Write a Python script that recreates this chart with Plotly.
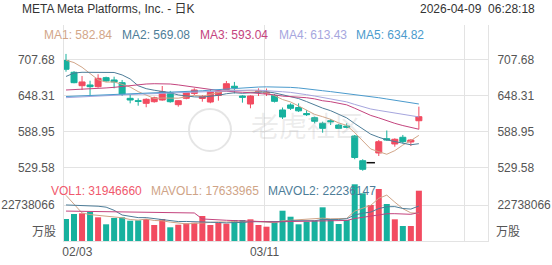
import plotly.graph_objects as go

# ---------------- data ----------------
dates = ["02/03", "02/04", "02/05", "02/06", "02/09", "02/10", "02/11", "02/12", "02/13",
         "02/17", "02/18", "02/19", "02/20", "02/23", "02/24", "02/25", "02/26", "02/27",
         "03/02", "03/03", "03/04", "03/05", "03/06", "03/09", "03/10", "03/11", "03/12",
         "03/13", "03/16", "03/17", "03/18", "03/19", "03/20", "03/23", "03/24", "03/25",
         "03/26", "03/27", "03/30", "03/31", "04/01", "04/02", "04/06", "04/07", "04/08"]

open_ = [706.8, 687.3, 665.1, 666.3, 663.5, 678.4, 674.6, 670.1, 644.2, 640.3,
         635.9, 638.6, 641.4, 653.5, 633.7, 644.2, 652.3, 643.9, 638.1, 648.9,
         658.7, 664.2, 648.0, 634.8, 654.7, 652.6, 648.9, 624.9, 633.2, 629.0,
         619.0, 612.1, 602.8, 607.1, 600.0, 598.3, 581.8, 540.9, 537.6, 553.7,
         577.4, 568.6, 579.7, 571.9, 607.1]
high = [717.7, 689.3, 681.1, 673.4, 684.0, 680.0, 680.0, 674.6, 650.9, 644.2,
        644.2, 646.9, 664.6, 656.4, 641.4, 655.2, 660.8, 649.7, 659.1, 658.0,
        672.9, 671.3, 649.4, 649.2, 660.8, 660.4, 651.4, 629.0, 635.9, 635.9,
        624.9, 613.8, 605.5, 610.0, 601.7, 602.8, 583.5, 543.3, 537.6, 575.2,
        590.9, 578.0, 583.5, 576.4, 630.4]
low = [688.3, 669.1, 658.0, 648.0, 661.8, 671.8, 660.8, 648.0, 635.9, 632.0,
       629.4, 637.0, 640.3, 637.0, 630.4, 642.6, 649.7, 638.6, 636.0, 640.3,
       657.5, 652.3, 637.0, 627.7, 648.0, 648.0, 637.3, 610.0, 624.9, 621.6,
       614.9, 602.8, 587.3, 600.0, 593.4, 594.5, 543.3, 524.3, 537.6, 548.7,
       574.0, 564.1, 569.7, 565.2, 592.9]
close = [692.3, 670.1, 671.3, 663.5, 677.3, 672.9, 671.3, 651.4, 641.4, 639.2,
         642.6, 645.2, 655.2, 638.6, 640.3, 653.9, 658.0, 647.3, 654.7, 656.1,
         668.4, 661.8, 645.9, 648.0, 656.4, 654.2, 639.2, 613.3, 627.7, 623.5,
         617.1, 606.2, 594.5, 605.5, 594.5, 596.2, 546.2, 526.7, 537.6, 572.4,
         575.2, 576.4, 572.4, 575.2, 613.8]

volume = [13970000, 17150000, 17590000, 18420000, 15050000, 10610000, 14610000, 15050000,
          12890000, 13150000, 13970000, 10160000, 13970000, 8700000, 10350000, 11240000,
          11620000, 15880000, 10160000, 11620000, 10990000, 13340000, 13340000, 13780000,
          10160000, 9080000, 11880000, 19240000, 15430000, 10610000, 12260000, 12890000,
          21400000, 13340000, 10800000, 13340000, 36010000, 30300000, 22860000, 33030000,
          23500000, 13780000, 9530000, 9530000, 31946660]

ma1 = [707.3, 703.4, 695.6, 684.9, 674.9, 671.0, 671.3, 667.3, 662.9, 655.3,
       649.2, 643.9, 644.7, 644.1, 644.4, 646.7, 649.2, 647.7, 650.9, 654.0,
       656.9, 657.6, 657.4, 656.1, 656.2, 653.2, 648.7, 642.2, 638.2, 631.6,
       624.2, 617.6, 613.8, 609.4, 603.5, 599.4, 587.4, 573.8, 560.3, 555.8,
       551.6, 557.6, 566.8, 574.3, 582.84]
ma2 = [680.4, 686.1, 687.3, 687.3, 687.3, 687.3, 687.0, 682.9, 676.3, 665.0,
       660.2, 657.6, 656.0, 653.5, 649.8, 647.9, 646.6, 646.2, 647.6, 649.2,
       651.8, 653.4, 652.5, 653.4, 655.1, 655.1, 653.2, 649.8, 647.1, 643.8,
       638.8, 633.2, 628.0, 623.7, 617.6, 611.8, 602.4, 593.9, 584.8, 579.7,
       575.5, 572.6, 570.3, 567.3, 569.08]
ma3 = [658.0, 658.5, 659.0, 659.5, 660.4, 661.4, 662.4, 663.9, 665.4, 666.9,
       667.9, 668.4, 668.4, 667.9, 666.4, 664.4, 662.4, 660.4, 659.0, 657.1,
       655.9, 655.6, 654.3, 653.5, 652.4, 651.5, 649.9, 647.9, 647.3, 646.5,
       645.2, 643.3, 640.2, 638.6, 636.3, 633.4, 627.8, 621.8, 615.9, 611.8,
       607.1, 602.8, 599.1, 595.5, 593.04]
ma4 = [645.3, 646.1, 646.8, 647.5, 648.2, 648.8, 649.5, 650.0, 650.5, 651.0,
       651.5, 652.0, 652.6, 653.0, 653.6, 654.2, 654.9, 655.6, 656.1, 656.7,
       657.3, 657.7, 657.9, 657.9, 657.7, 657.1, 656.3, 655.1, 654.0, 652.7,
       650.2, 648.0, 645.5, 643.6, 640.8, 638.3, 634.1, 630.0, 626.5, 624.2,
       622.0, 619.7, 616.9, 614.8, 613.43]
ma5 = [647.2, 647.7, 648.2, 648.7, 649.2, 649.7, 650.2, 650.7, 651.2, 651.7,
       652.3, 652.9, 653.4, 654.0, 654.6, 655.3, 656.0, 656.7, 657.8, 658.8,
       659.8, 660.8, 661.7, 662.4, 662.9, 663.2, 663.2, 662.9, 662.3, 661.4,
       659.5, 658.2, 656.8, 655.3, 653.8, 652.3, 650.7, 649.0, 647.2, 645.2,
       643.1, 641.0, 638.9, 636.8, 634.82]

# volume moving averages, in millions of shares
mavol1_m = [29.0, 23.5, 17.8, 16.8, 16.44, 15.76, 15.26, 14.75, 13.64, 13.26,
            13.93, 13.04, 12.83, 11.99, 11.43, 10.88, 11.18, 11.56, 11.85, 12.10,
            12.05, 12.40, 11.89, 12.61, 12.32, 11.94, 11.65, 12.83, 13.16, 13.25,
            13.88, 14.09, 14.52, 14.10, 14.14, 14.35, 18.98, 20.76, 22.66, 27.11,
            29.14, 24.69, 20.54, 17.87, 17.633965]
mavol2_m = [22.9, 22.8, 22.6, 22.4, 22.1, 21.5, 19.5, 16.5, 15.5, 14.85,
            14.85, 14.15, 13.79, 12.82, 12.35, 12.41, 12.11, 12.19, 11.92, 11.77,
            11.47, 11.79, 11.72, 12.23, 12.21, 12.00, 12.02, 12.36, 12.89, 12.79,
            12.91, 12.87, 13.67, 13.63, 13.69, 14.12, 16.53, 17.64, 18.38, 20.62,
            21.75, 21.84, 20.65, 20.27, 22.236147]
mavol3_m = [19.0, 18.95, 18.9, 18.85, 18.8, 18.7, 18.65, 18.6, 18.5, 18.45,
            18.4, 18.3, 18.25, 18.2, 18.1, 17.9, 17.8, 14.0, 13.6, 13.31,
            13.16, 12.97, 12.76, 12.52, 12.28, 12.20, 12.07, 12.28, 12.40, 12.28,
            12.19, 12.33, 12.70, 12.93, 12.95, 13.06, 14.28, 15.00, 15.63, 16.70,
            17.33, 17.35, 17.16, 16.95, 18.04]

price_ticks = [529.58, 588.95, 648.31, 707.68]
volume_tick = 22738066
volume_unit = "万股"
title_text = "META Meta Platforms, Inc. - 日K"
timestamp = "2026-04-09\u00a0\u00a006:28:18"
date_label_idx = [0, 25, 50]

# ---------------- styling / layout constants ----------------
W, H = 552, 265
PL, PR, PT, PB = 64, 488, 25, 241   # plot area in pixels
SPLIT = 183                          # pixel row between price and volume panes
UP, DOWN = "#f24b60", "#17b19e"
MA_COLORS = ["#d2a689", "#4d7d98", "#c4447e", "#a6a6de", "#4b9bcd"]
VOL_COLORS = ["#f0586c", "#cfa487", "#4d7d98"]
GRID = "#e3e3e3"
TXT = "#555555"
FONT = "Liberation Sans, Arial, Noto Sans CJK SC, sans-serif"


def fx(p):
    return (p - PL) / (PR - PL)


def fy(p):
    return (PB - p) / (PB - PT)


x = list(range(len(dates)))
PRICE_RANGE = [504.0, 765.6]
VOL_RANGE = [0, 36.84e6]
X_RANGE = [-0.25, 52.62]

fig = go.Figure()

# candles (flat doji drawn separately as a black dash)
keep = [i for i in x if not (open_[i] == close[i] == high[i] == low[i])]
flat = [i for i in x if i not in keep]
fig.add_trace(go.Candlestick(
    x=[x[i] for i in keep], open=[open_[i] for i in keep], high=[high[i] for i in keep],
    low=[low[i] for i in keep], close=[close[i] for i in keep],
    increasing=dict(line=dict(color=UP, width=1), fillcolor=UP),
    decreasing=dict(line=dict(color=DOWN, width=1), fillcolor=DOWN),
    whiskerwidth=0, hoverinfo="skip", xaxis="x", yaxis="y", showlegend=False))
fig.add_trace(go.Scatter(
    x=[x[i] for i in flat], y=[close[i] for i in flat], mode="markers",
    marker=dict(symbol="line-ew", size=6, line=dict(color="#111111", width=1.5)),
    xaxis="x", yaxis="y", showlegend=False, hoverinfo="skip"))

for ma, col in zip([ma1, ma2, ma3, ma4, ma5], MA_COLORS):
    fig.add_trace(go.Scatter(x=x, y=ma, mode="lines", line=dict(color=col, width=1),
                             xaxis="x", yaxis="y", showlegend=False, hoverinfo="skip"))

vol_colors = [UP if close[i] >= open_[i] else DOWN for i in x]
fig.add_trace(go.Bar(x=x, y=volume, marker=dict(color=vol_colors, line=dict(width=0)),
                     xaxis="x2", yaxis="y2", showlegend=False, hoverinfo="skip"))
for mv, col in zip([mavol1_m, mavol2_m, mavol3_m], [VOL_COLORS[1], VOL_COLORS[2], MA_COLORS[2]]):
    fig.add_trace(go.Scatter(x=x, y=[v * 1e6 for v in mv], mode="lines",
                             line=dict(color=col, width=1), xaxis="x2", yaxis="y2",
                             showlegend=False, hoverinfo="skip"))

# transparent copies so the right-hand mirror axes get drawn
fig.add_trace(go.Scatter(x=x, y=close, mode="lines", opacity=0, line=dict(width=0),
                         xaxis="x", yaxis="y3", showlegend=False, hoverinfo="skip"))
fig.add_trace(go.Scatter(x=x, y=volume, mode="lines", opacity=0, line=dict(width=0),
                         xaxis="x2", yaxis="y4", showlegend=False, hoverinfo="skip"))

grid_vals = [i - 0.25 for i in date_label_idx]
grid_text = []
for k, i in enumerate(date_label_idx):
    if i < len(dates):
        lab = dates[i]
        grid_text.append(("\u00a0" * 8 + lab) if k == 0 else lab)
    else:
        grid_text.append("")

tickfont = dict(family=FONT, size=12, color=TXT)

annotations = [
    dict(text=title_text, x=fx(20), y=fy(8.5), xanchor="left", yanchor="middle",
         font=dict(family=FONT, size=12, color="#333333")),
    dict(text=timestamp, x=fx(537), y=fy(8.5), xanchor="right", yanchor="middle",
         font=dict(family=FONT, size=12, color="#333333")),
]
ma_x = [42, 120, 198, 277, 354]
for k, (ma, col, px) in enumerate(zip([ma1, ma2, ma3, ma4, ma5], MA_COLORS, ma_x)):
    annotations.append(dict(text=f"MA{k + 1}: {ma[-1]:.2f}", x=fx(px), y=fy(34.5),
                            xanchor="left", yanchor="middle",
                            font=dict(family=FONT, size=12, color=col)))
vol_texts = [f"VOL1: {volume[-1]}", f"MAVOL1: {round(mavol1_m[-1] * 1e6)}",
             f"MAVOL2: {round(mavol2_m[-1] * 1e6)}"]
for t, col, px in zip(vol_texts, VOL_COLORS, [48.5, 148.5, 266]):
    annotations.append(dict(text=t, x=fx(px), y=fy(191), xanchor="left", yanchor="middle",
                            font=dict(family=FONT, size=12, color=col)))
annotations.append(dict(text=volume_unit, x=fx(58), y=0, yref="y2", xanchor="right",
                        yanchor="bottom", font=dict(family=FONT, size=12, color=TXT)))
annotations.append(dict(text=volume_unit, x=fx(494), y=0, yref="y2", xanchor="left",
                        yanchor="bottom", font=dict(family=FONT, size=12, color=TXT)))
# watermark
annotations.append(dict(text="老虎社区", x=fx(307), y=fy(127), xanchor="center",
                        yanchor="middle", font=dict(family=FONT, size=28,
                                                    color="rgba(170,170,170,0.22)")))
for a in annotations:
    a.setdefault("xref", "paper")
    a.setdefault("yref", "paper")
    a["showarrow"] = False

shapes = [dict(type="circle", xref="paper", yref="paper", x0=fx(189), x1=fx(231),
               y0=fy(151), y1=fy(109), line=dict(color="rgba(170,170,170,0.3)", width=2),
               layer="below")]

common = dict(automargin=False, zeroline=False, ticks="", fixedrange=True)

fig.update_layout(
    template="none",
    width=W, height=H, margin=dict(l=PL, r=W - PR, t=PT, b=H - PB, pad=0),
    paper_bgcolor="white", plot_bgcolor="white", hovermode=False,
    bargap=0.25, boxgap=0.25, boxgroupgap=0,
    font=dict(family=FONT, size=12, color=TXT),
    annotations=annotations, shapes=shapes, showlegend=False,
    xaxis=dict(domain=[0, 1], anchor="y", range=X_RANGE, tickvals=grid_vals,
               showticklabels=False, showgrid=True, gridcolor=GRID, gridwidth=1,
               showline=False, rangeslider=dict(visible=False), **common),
    xaxis2=dict(domain=[0, 1], anchor="y2", matches="x", range=X_RANGE, tickvals=grid_vals,
                ticktext=grid_text, showgrid=True, gridcolor=GRID, gridwidth=1,
                showline=True, linecolor=GRID, tickfont=tickfont,
                rangeslider=dict(visible=False), **common),
    yaxis=dict(domain=[fy(SPLIT), 1], anchor="x", range=PRICE_RANGE, tickvals=price_ticks,
               ticktext=[f"{v:.2f}" for v in price_ticks], showgrid=True, gridcolor=GRID,
               gridwidth=1, showline=True, linecolor=GRID, tickfont=tickfont,
               ticklabelstandoff=6, **common),
    yaxis3=dict(overlaying="y", side="right", anchor="x", range=PRICE_RANGE,
                tickvals=price_ticks, ticktext=[f"{v:.2f}" for v in price_ticks],
                showgrid=False, showline=True, linecolor=GRID, tickfont=tickfont,
                ticklabelstandoff=6, **common),
    yaxis2=dict(domain=[0, fy(SPLIT)], anchor="x2", range=VOL_RANGE, tickvals=[volume_tick],
                ticktext=[str(volume_tick)], showgrid=True, gridcolor=GRID, gridwidth=1,
                showline=True, linecolor=GRID, tickfont=tickfont, ticklabelstandoff=6,
                **common),
    yaxis4=dict(overlaying="y2", side="right", anchor="x2", range=VOL_RANGE,
                tickvals=[volume_tick], ticktext=[str(volume_tick)], showgrid=False,
                showline=True, linecolor=GRID, tickfont=tickfont, ticklabelstandoff=6,
                **common),
)

fig.write_html("out.html")
